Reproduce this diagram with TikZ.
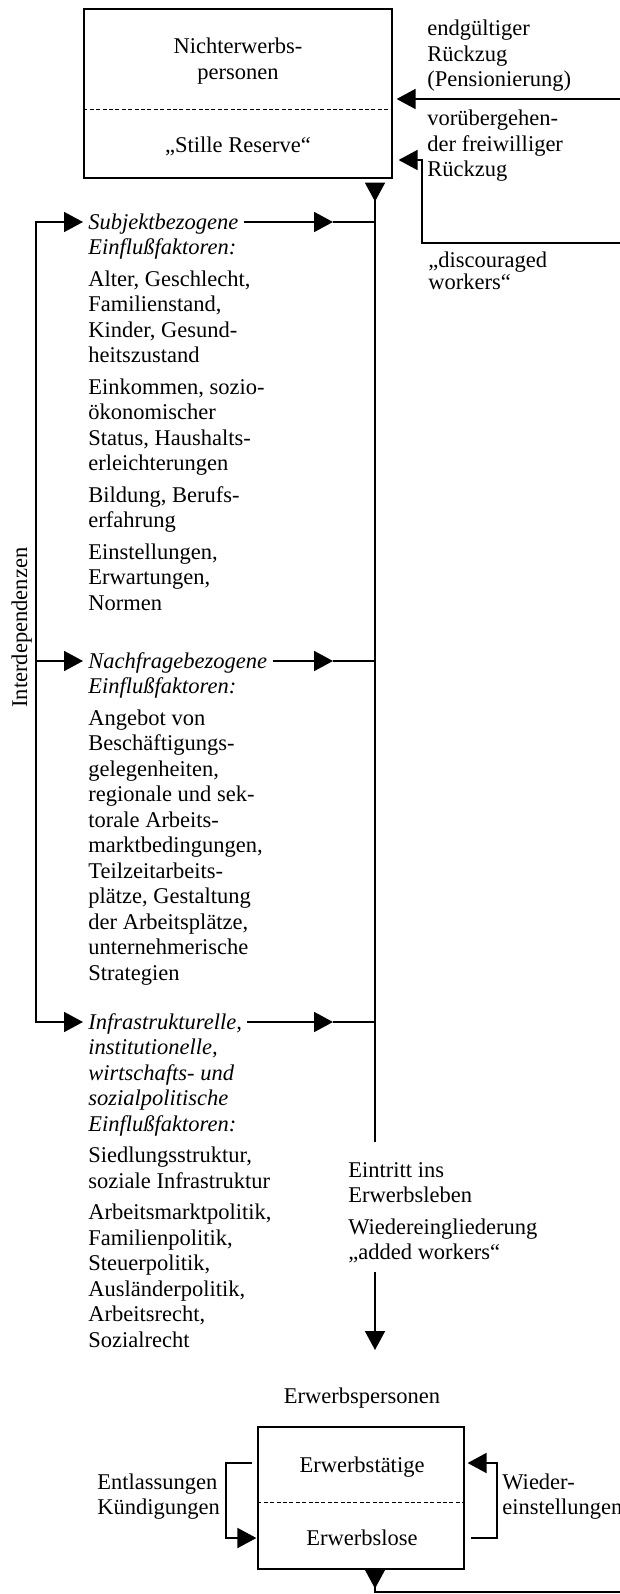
\documentclass[tikz,border=0pt]{standalone}
\usepackage{fontspec}
\setmainfont{Liberation Serif}
\usetikzlibrary{arrows.meta}

\tikzset{
  txt/.style={align=left, anchor=base west, inner sep=0pt,
    font=\fontsize{11.25}{12.75}\selectfont},
  ctxt/.style={align=center, anchor=base, inner sep=0pt,
    font=\fontsize{11.25}{12.75}\selectfont},
  itxt/.style={txt, font=\fontsize{11.25}{12.75}\selectfont\itshape},
  headline/.style={anchor=base west, inner xsep=2.5pt, inner ysep=0pt,
    text height=7.5pt, text depth=0.5pt,
    font=\fontsize{11.25}{12.75}\selectfont\itshape},
  stockbox/.style={draw, line width=0.6pt, inner sep=0pt},
  divider/.style={line width=0.5pt, dash pattern=on 2pt off 1.2pt},
  flow/.style={line width=0.9pt},
}

\begin{document}
\begin{tikzpicture}[x=0.5pt, y=-0.5pt, >={Triangle[length=9.5pt,width=10pt]}]
\useasboundingbox (0,0) rectangle (620,1594);

% Nichterwerbspersonen (multi-line nodes sit on their last line)
\node [stockbox, minimum width=154pt, minimum height=84.5pt] (nep) at (238,93.5) {};
\draw [divider] (nep.west |- 0,110) -- (nep.east |- 0,110);
\node [ctxt] (neplab) at (238,79.5) {Nichterwerbs-\\personen};
\node [ctxt] (reserve) at (238,153) {„Stille Reserve“};

% Rueckzug
\node [txt] (pens) at (427,87) {endgültiger\\Rückzug\\(Pensionierung)};
\node [txt] (tempret) at (427,177) {vorübergehen-\\der freiwilliger\\Rückzug};
\node [txt, font=\fontsize{11.25}{11}\selectfont] (discour) at (428,289) {„discouraged\\workers“};

\coordinate (inpens) at (620,99);
\coordinate (indisc) at (620,243);
\coordinate (kneedisc) at (422,160);
\draw [flow, ->, shorten >=2pt] (inpens) -- (inpens -| nep.east);
\draw [flow, ->, shorten >=3pt] (indisc) -| (kneedisc) -- (kneedisc -| nep.east);

% main line
\coordinate (main) at (375,0);
\coordinate (mtip) at (333,0);
\coordinate (lside) at (36,0);
\coordinate (mainend) at (375,1142);
\draw [flow, >-, shorten <=2pt] (main |- nep.south) -- (mainend);

% Einflussfaktoren
\node [headline] (subj) at (83,229) {Subjektbezogene};
\node [itxt] (subjrest) at (88,254.5) {Einflußfaktoren:};
\node [txt] (subjlist) at (88,610) {Alter, Geschlecht,\\Familienstand,\\Kinder, Gesund-\\heitszustand\\[3pt]
  Einkommen, sozio-\\ökonomischer\\Status, Haushalts-\\erleichterungen\\[3pt]
  Bildung, Berufs-\\erfahrung\\[3pt]
  Einstellungen,\\Erwartungen,\\Normen};

\node [headline] (nach) at (83,668) {Nachfragebezogene};
\node [itxt] (nachrest) at (88,693.5) {Einflußfaktoren:};
\node [txt] (nachlist) at (88,980) {Angebot von\\Beschäftigungs-\\gelegenheiten,\\regionale und sek-\\torale Arbeits-\\marktbedingungen,\\Teilzeitarbeits-\\plätze, Gestaltung\\der Arbeitsplätze,\\unternehmerische\\Strategien};

\node [headline] (infra) at (83,1029) {Infrastrukturelle,};
\node [itxt] (infrarest) at (88,1131) {institutionelle,\\wirtschafts- und\\sozialpolitische\\Einflußfaktoren:};
\node [txt] (infralist) at (88,1347) {Siedlungsstruktur,\\soziale Infrastruktur\\[3pt]
  Arbeitsmarktpolitik,\\Familienpolitik,\\Steuerpolitik,\\Ausländerpolitik,\\Arbeitsrecht,\\Sozialrecht};

\node [txt, rotate=90] (interdep) at (27,708) {Interdependenzen};

\draw [flow, <->] (subj.west) -- (lside |- subj.west) -- (lside |- infra.west) -- (infra.west);
\draw [flow, ->] (lside |- nach.west) -- (nach.west);

\draw [flow, ->] (subj.east) -- (mtip |- subj.east);
\draw [flow] (mtip |- subj.east) -- (main |- subj.east);
\draw [flow, ->] (nach.east) -- (mtip |- nach.east);
\draw [flow] (mtip |- nach.east) -- (main |- nach.east);
\draw [flow, ->] (infra.east) -- (mtip |- infra.east);
\draw [flow] (mtip |- infra.east) -- (main |- infra.east);

% Eintritt
\node [txt] (entry) at (348,1259.5) {Eintritt ins\\Erwerbsleben\\[3pt]Wiedereingliederung\\„added workers“};
\coordinate (reentry) at (375,1272);
\coordinate (reentryend) at (375,1350);
\draw [flow, ->] (reentry) -- (reentryend);

% Erwerbspersonen
\node [ctxt] (ep) at (362,1403) {Erwerbspersonen};
\node [stockbox, minimum width=103pt, minimum height=71pt] (eps) at (361,1498) {};
\draw [divider] (eps.west |- 0,1502) -- (eps.east |- 0,1502);
\node [ctxt] (emp) at (362,1472) {Erwerbstätige};
\node [ctxt] (unemp) at (362,1545) {Erwerbslose};

\coordinate (upline) at (0,1463);
\coordinate (lowline) at (0,1538);
\coordinate (dismiss) at (226,0);
\coordinate (rehire) at (497,0);
\draw [flow, ->, shorten <=2.5pt, shorten >=0.5pt] (eps.west |- upline) -| (dismiss |- lowline) -- (eps.west |- lowline);
\draw [flow, ->, shorten <=3pt, shorten >=1.5pt] (eps.east |- lowline) -| (rehire |- upline) -- (eps.east |- upline);
\node [txt] (dismisslab) at (97,1514.5) {Entlassungen\\Kündigungen};
\node [txt] (rehirelab) at (502,1514.5) {Wieder-\\einstellungen};

\coordinate (outflow) at (620,1592);
\draw [flow, >-] (main |- eps.south) |- (outflow);

\end{tikzpicture}
\end{document}
